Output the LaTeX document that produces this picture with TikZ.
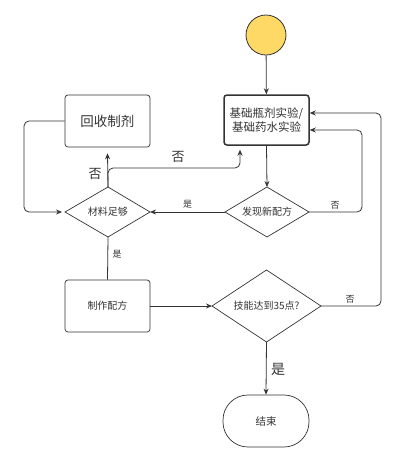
\documentclass[tikz,border=0pt]{standalone}
\usepackage{fontspec}
\setmainfont{Noto Sans CJK SC}
\usetikzlibrary{shapes.geometric,arrows.meta}
\definecolor{ln}{HTML}{333333}
\definecolor{tx}{HTML}{333333}
\definecolor{sun}{HTML}{FFD966}
\begin{document}
\begin{tikzpicture}[x=1pt,y=-1pt,
  every node/.style={text=tx,inner sep=0pt},
  proc/.style={draw=ln,line width=0.7pt,rounded corners=3pt,minimum width=85pt,minimum height=52pt,align=center},
  decshape/.style={draw=ln,line width=0.7pt},
  conn/.style={draw=ln,line width=0.8pt,rounded corners=5pt},
  arr/.style={conn,-{Stealth[length=6pt,width=5pt]}},
  lbl/.style={font=\fontsize{9}{10}\selectfont}
]
\useasboundingbox (0,0) rectangle (400,475);
\node[circle,draw=ln,line width=0.8pt,fill=sun,minimum size=40pt] (start) at (266,35) {};
\node[proc,line width=1.5pt,minimum height=50pt,font=\fontsize{11.5}{14}\selectfont] (exp) at (266.5,120) {基础瓶剂实验/\\基础药水实验};
\node[proc,font=\fontsize{13.5}{15}\selectfont] (rec) at (107.5,121) {回收制剂};
\path[decshape] (65,212) -- (108,187) -- (150,212) -- (108,237) -- cycle;
\node[font=\fontsize{10}{12}\selectfont] (mat) at (108,212) {材料足够};
\coordinate (matT) at (108,187); \coordinate (matL) at (65,212);
\coordinate (matR) at (150,212); \coordinate (matB) at (108,237);
\path[decshape] (225,212) -- (267,187) -- (309,212) -- (267,237) -- cycle;
\node[font=\fontsize{10}{12}\selectfont] (find) at (267,212) {发现新配方};
\coordinate (findT) at (267,187); \coordinate (findL) at (225,212);
\coordinate (findR) at (309,212);
\node[proc,font=\fontsize{10}{12}\selectfont] (make) at (107.5,306) {制作配方};
\path[decshape] (212,306) -- (266.5,270) -- (321,306) -- (266.5,342) -- cycle;
\node[font=\fontsize{10}{12}\selectfont] (skill) at (266.5,306) {技能达到35点?};
\coordinate (skT) at (266.5,270); \coordinate (skL) at (212,306);
\coordinate (skR) at (321,306); \coordinate (skB) at (266.5,342);
\node[draw=ln,line width=0.7pt,rounded corners=25pt,minimum width=86pt,minimum height=52pt,font=\fontsize{10.5}{12}\selectfont] (end) at (266,421) {结束};
% connectors
\draw[arr] (start) -- (exp);
\draw[arr] (exp.south) -- (findT);
\draw[arr] (findL) -- node[above=3pt,lbl]{是} (matR);
\draw[arr] (findR) -- (362,212) -- (362,130) -- (exp.east |- 0,130);
\node[lbl] at (335,205) {否};
\draw[arr] (skR) -- (381,306) -- (381,113) -- (exp.east |- 0,113);
\node[lbl] at (350,299) {否};
\draw[arr] (matT) -- ([yshift=-6pt]rec.south);
\node[font=\fontsize{13}{14}\selectfont] at (95,174) {否};
\draw[arr] (matT) -- (108,168) -- (240,168) -- ([yshift=-4pt]exp.south -| 240,0);
\node[font=\fontsize{13}{14}\selectfont] at (178,157) {否};
\draw[arr] (rec.west) -- (24,121) -- (24,212) -- ([xshift=-3pt]matL);
\draw[conn] (matB) -- (make.north);
\node[lbl] at (117,254) {是};
\draw[arr] (make.east) -- (skL);
\draw[arr] (skB) -- (end.north);
\node[font=\fontsize{14}{15}\selectfont] at (278,369) {是};
\end{tikzpicture}
\end{document}
